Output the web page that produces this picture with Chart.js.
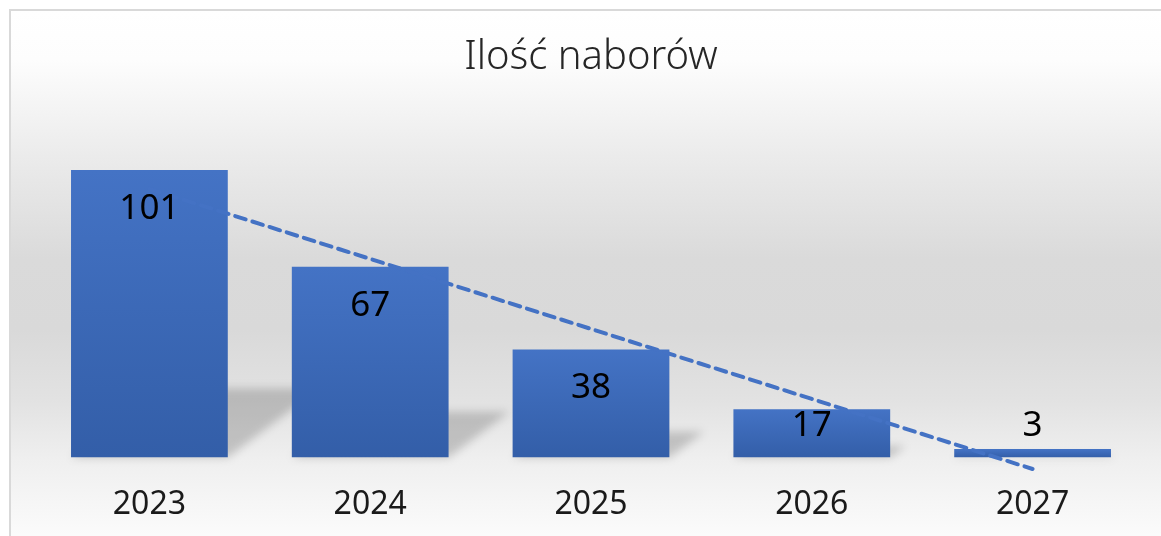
<!DOCTYPE html>
<html>
<head>
<meta charset="utf-8">
<title>Ilość naborów</title>
<script src="https://cdn.jsdelivr.net/npm/chart.js@4.4.1/dist/chart.umd.min.js"></script>
<style>
  html, body { margin: 0; padding: 0; overflow: hidden; background: #fff; }
  #box {
    position: absolute; left: 9px; top: 9px; width: 1170px; height: 540px;
    border-top: 2px solid #d9d9d9; border-left: 2px solid #d9d9d9;
    background: linear-gradient(to bottom, #ffffff 0%, #fdfdfd 9%, #ececec 26%,
      #dadada 46%, #d9d9d9 59%, #e2e2e2 72%, #efefef 83%, #fbfbfb 97%);
  }
  #chart { position: absolute; left: 0; top: 0; }
</style>
</head>
<body>
<div id="box"></div>
<canvas id="chart" width="1161" height="552"></canvas>
<script>
const labels = ["2023", "2024", "2025", "2026", "2027"];
const values = [101, 67, 38, 17, 3];
// liniowa linia trendu (punkty na środkach kategorii)
const trend = [94.4, 69.8, 45.2, 20.6, -4.0];

// gradient każdego słupka od góry do dołu
function barFill(context) {
  const chart = context.chart;
  if (!chart.chartArea || context.raw == null) return "#4472c4";
  const y = chart.scales.y;
  const top = y.getPixelForValue(context.raw);
  const base = y.getPixelForValue(0);
  const g = chart.ctx.createLinearGradient(0, top, 0, base);
  g.addColorStop(0, "#4473c5");
  g.addColorStop(1, "#335ea8");
  return g;
}

// cień "perspektywiczny" za słupkami
const floorShadow = {
  id: "floorShadow",
  beforeDatasetsDraw(chart) {
    const ctx = chart.ctx;
    const bars = chart.getDatasetMeta(0).data;
    ctx.save();
    ctx.filter = "blur(4px)";
    ctx.fillStyle = "rgba(0,0,0,0.18)";
    bars.forEach((bar) => {
      const h = bar.base - bar.y;
      const dh = h * 0.24;
      const dx = dh * 1.33;
      const x0 = bar.x - bar.width / 2;
      const x1 = bar.x + bar.width / 2;
      ctx.beginPath();
      ctx.moveTo(x0, bar.base);
      ctx.lineTo(x1, bar.base);
      ctx.lineTo(x1 + dx, bar.base - dh);
      ctx.lineTo(x0 + dx, bar.base - dh);
      ctx.closePath();
      ctx.fill();
    });
    ctx.restore();
  },
};

// etykiety wartości (wewnątrz u góry, albo nad słupkiem gdy za niski)
const valueLabels = {
  id: "valueLabels",
  afterDatasetsDraw(chart) {
    const ctx = chart.ctx;
    const bars = chart.getDatasetMeta(0).data;
    ctx.save();
    ctx.font = "35px 'Noto Sans'";
    ctx.fillStyle = "#000";
    ctx.textAlign = "center";
    ctx.textBaseline = "alphabetic";
    bars.forEach((bar, i) => {
      const h = bar.base - bar.y;
      let y;
      if (h > 80) y = bar.y + 49;
      else if (h > 30) y = bar.y + 27;
      else y = bar.y - 13;
      ctx.fillText(values[i], bar.x, y);
    });
    ctx.restore();
  },
};

new Chart(document.getElementById("chart").getContext("2d"), {
  type: "bar",
  data: {
    labels: labels,
    datasets: [
      {
        label: "Ilość naborów",
        data: values,
        backgroundColor: barFill,
        barPercentage: 0.71,
        categoryPercentage: 1,
        order: 1,
      },
      {
        type: "line",
        label: "Trend",
        data: trend,
        borderColor: "#4472c4",
        borderWidth: 4,
        borderDash: [11, 7],
        borderCapStyle: "round",
        pointRadius: 0,
        fill: false,
        clip: false,
        order: 0,
      },
    ],
  },
  options: {
    responsive: false,
    animation: false,
    layout: { padding: { left: 39, right: 18, top: 0, bottom: 0 } },
    plugins: {
      legend: { display: false },
      tooltip: { enabled: false },
      title: {
        display: true,
        text: "Ilość naborów",
        color: "#262626",
        font: { family: "'Noto Sans'", size: 40, weight: 300, lineHeight: 1.2 },
        padding: { top: 34, bottom: 34 },
      },
    },
    scales: {
      x: {
        grid: { display: false, drawTicks: false },
        border: { display: false },
        ticks: {
          color: "#1a1a1a",
          font: { family: "'Noto Sans'", size: 32, lineHeight: 1.2 },
          padding: 28,
        },
      },
      y: { display: false, min: 0, max: 120 },
    },
  },
  plugins: [floorShadow, valueLabels],
});
</script>
</body>
</html>
